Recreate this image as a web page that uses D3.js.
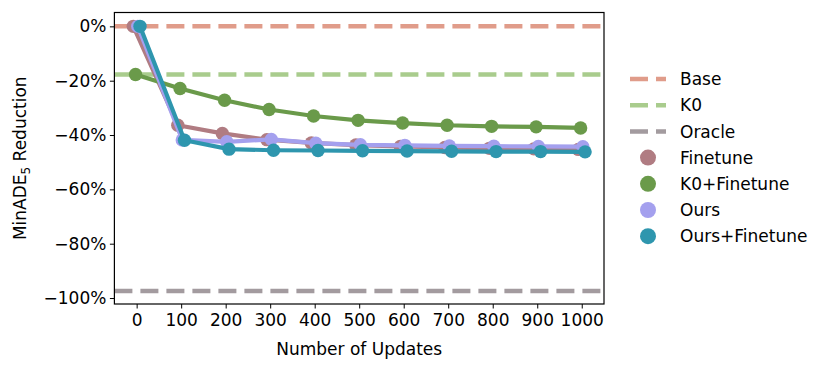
<!DOCTYPE html>
<html><head><meta charset="utf-8">
<script src="https://cdn.jsdelivr.net/npm/d3@7"></script>
<style>body{margin:0;background:#fff}svg{display:block}text{font-family:"DejaVu Sans",sans-serif;fill:#000}</style>
</head><body><svg id="c" width="831" height="371"></svg>
<script>
const categories = [0,100,200,300,400,500,600,700,800,900,1000];
const yTicks = [0,-20,-40,-60,-80,-100];
const refNames = ["Base","K0","Oracle"];
const refValues = [0,-17.7,-97.4];
const refColors = ["#e09c8a","#a9cc8d","#a39b9f"];
const seriesNames = ["Finetune","K0+Finetune","Ours","Ours+Finetune"];
const seriesColors = ["#b07c82","#6a9a4a","#a4a0ee","#2e96ae"];
const finetune = [0,-36.4,-39.4,-41.7,-42.9,-43.7,-44.2,-44.6,-44.9,-45.1,-45.3];
const k0Finetune = [-17.7,-22.9,-27.2,-30.6,-33.0,-34.6,-35.6,-36.4,-36.8,-37.0,-37.4];
const ours = [0,-41.8,-42.5,-41.6,-43.0,-43.6,-43.8,-44.0,-44.1,-44.2,-44.3];
const oursFinetune = [0,-41.9,-45.2,-45.6,-45.7,-45.8,-45.9,-46.0,-46.1,-46.1,-46.2];
const seriesValues = [finetune,k0Finetune,ours,oursFinetune];

const FS = "17px";
const svg = d3.select("#c");
const L=114.4,R=604,T=12.5,B=304;
const x = d3.scaleLinear().domain([-0.5,categories.length-0.5]).range([L,R]);
const y = d3.scaleLinear().domain([-102.2,5.1]).range([B,T]);
const dodge = [-0.075,-0.025,0.025,0.075];

refValues.forEach((v,i)=>{
  svg.append("line").attr("x1",L).attr("x2",R).attr("y1",y(v)).attr("y2",y(v))
    .attr("stroke",refColors[i]).attr("stroke-width",4.5).attr("stroke-dasharray","18,8");
});
seriesValues.forEach((vals,s)=>{
  const line = d3.line().x((d,i)=>x(i+dodge[s])).y(d=>y(d));
  svg.append("path").attr("d",line(vals)).attr("fill","none").attr("stroke",seriesColors[s]).attr("stroke-width",4.2).attr("stroke-linejoin","round");
  svg.selectAll(null).data(vals).enter().append("circle")
    .attr("cx",(d,i)=>x(i+dodge[s])).attr("cy",d=>y(d)).attr("r",6.7).attr("fill",seriesColors[s]);
});
const xa = svg.append("g").attr("transform",`translate(0,${B})`)
  .call(d3.axisBottom(x).tickValues(d3.range(categories.length)).tickFormat(i=>categories[i]).tickSize(4.5).tickPadding(3).tickSizeOuter(0));
const ya = svg.append("g").attr("transform",`translate(${L},0)`)
  .call(d3.axisLeft(y).tickValues(yTicks).tickFormat(d=>(d<0?"\u2212"+(-d):d)+"%").tickSize(4.5).tickPadding(3.5).tickSizeOuter(0));
[xa,ya].forEach(g=>{g.select(".domain").remove();g.selectAll("text").attr("font-size",FS).attr("font-family","DejaVu Sans").attr("fill","#000");g.selectAll("line").attr("stroke","#000").attr("stroke-width",1);});
xa.selectAll("text").attr("dy","0.85em");
svg.append("rect").attr("x",L).attr("y",T).attr("width",R-L).attr("height",B-T).attr("fill","none").attr("stroke","#000").attr("stroke-width",1.2);

svg.append("text").attr("x",(L+R)/2).attr("y",355).attr("text-anchor","middle").attr("font-size",FS).text("Number of Updates");
const yl = svg.append("text").attr("transform",`translate(26,${(T+B)/2}) rotate(-90)`).attr("text-anchor","middle").attr("font-size",FS);
yl.append("tspan").text("MinADE");
yl.append("tspan").attr("font-size","12px").attr("dy","4").text("5");
yl.append("tspan").attr("dy","-4").text(" Reduction");

const lx=630, ly0=79, ls=26.2;
refNames.forEach((n,i)=>{
  const yy=ly0+i*ls;
  svg.append("line").attr("x1",lx).attr("x2",666).attr("y1",yy).attr("y2",yy).attr("stroke",refColors[i]).attr("stroke-width",4.5).attr("stroke-dasharray","18,8");
  svg.append("text").attr("x",680).attr("y",yy).attr("dy","0.36em").attr("font-size",FS).text(n);
});
seriesNames.forEach((n,i)=>{
  const yy=ly0+(i+3)*ls;
  svg.append("circle").attr("cx",648).attr("cy",yy).attr("r",8).attr("fill",seriesColors[i]);
  svg.append("text").attr("x",680).attr("y",yy).attr("dy","0.36em").attr("font-size",FS).text(n);
});
</script></body></html>
